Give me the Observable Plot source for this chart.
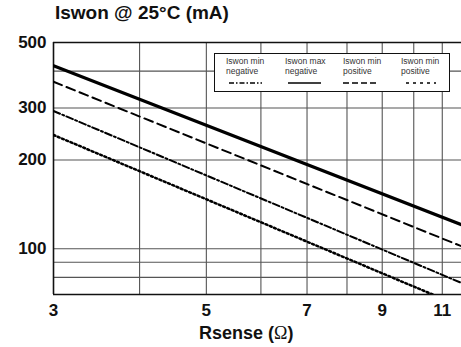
<!DOCTYPE html>
<html>
<head>
<meta charset="utf-8">
<script src="https://cdn.jsdelivr.net/npm/d3@7"></script>
<script src="https://cdn.jsdelivr.net/npm/@observablehq/plot@0.6"></script>
<style>
  body { margin: 0; background: #fff; }
  #wrap { position: relative; width: 461px; height: 347px; overflow: hidden; font-family: "Liberation Sans", Arial, sans-serif; }
  #title { position: absolute; left: 55px; top: 2px; font-size: 19px; font-weight: bold; color: #111; white-space: nowrap; }
  #xlabel { position: absolute; left: 199px; top: 323px; font-size: 18px; font-weight: bold; color: #111; white-space: nowrap; }
  #xlabel .om { font-family: "Liberation Serif", "DejaVu Serif", serif; font-weight: normal; }
  #legend { position: absolute; left: 214px; top: 53px; width: 234px; height: 37px; background: #fff; border: 1px solid #111; }
  .li { position: absolute; top: 2px; font-size: 8.5px; color: #333; line-height: 10px; }
  .li svg { display: block; margin-top: 4px; }
</style>
</head>
<body>
<div id="wrap"></div>
<script>
// Data
const xDomain = [3, 11.73];           // Rsense (Ω) visible range
const yDomain = [70, 500];            // Iswon (mA) visible range
const xTicks = [3, 5, 7, 9, 11];
const yTicks = [100, 200, 300, 500];
const xGrid = [4, 5, 6, 7, 8, 9, 10, 11];
const yGrid = [80, 90, 100, 200, 300, 400];

const rMaxNeg = [3, 11.73];  const iMaxNeg = [417, 120.6];   // Iswon max negative (solid)
const rMinPosD = [3, 11.73]; const iMinPosD = [368, 102];    // Iswon min positive (dashed)
const rMinNeg = [3, 11.73];  const iMinNeg = [293, 76.6];    // Iswon min negative (dash-dot)
const rMinPos = [3, 10.65];  const iMinPos = [243, 70];      // Iswon min positive (dotted)

const seriesNames = ["Iswon min\nnegative", "Iswon max\nnegative", "Iswon min\npositive", "Iswon min\npositive"];

const toRows = (xs, ys) => xs.map((x, i) => ({x, y: ys[i]}));

const lineStyles = [
  {rows: toRows(rMinNeg, iMinNeg), strokeWidth: 2, dash: "7,2.5,2,2.5"},
  {rows: toRows(rMaxNeg, iMaxNeg), strokeWidth: 3.2, dash: null},
  {rows: toRows(rMinPosD, iMinPosD), strokeWidth: 2, dash: "9,5"},
  {rows: toRows(rMinPos, iMinPos), strokeWidth: 2.5, dash: "2,2.6"}
];

const chart = Plot.plot({
  width: 461,
  height: 347,
  marginLeft: 53,
  marginRight: 0,
  marginTop: 42,
  marginBottom: 53,
  style: {fontFamily: "'Liberation Sans', Arial, sans-serif", fontSize: "17px", fontWeight: "bold", color: "#111", background: "transparent"},
  x: {type: "log", domain: xDomain, axis: null},
  y: {type: "log", domain: yDomain, axis: null},
  marks: [
    Plot.gridX(xGrid, {stroke: "#555", strokeOpacity: 1, strokeWidth: 1.1}),
    Plot.gridY(yGrid, {stroke: "#555", strokeOpacity: 1, strokeWidth: 1.1}),
    Plot.ruleX([xDomain[0]], {stroke: "#111", strokeWidth: 1.6}),
    Plot.ruleY(yDomain, {stroke: "#111", strokeWidth: 1.6}),
    ...lineStyles.map(s => Plot.line(s.rows, {x: "x", y: "y", stroke: "#000", strokeWidth: s.strokeWidth, strokeDasharray: s.dash, clip: true})),
    Plot.text(xTicks, {x: d => d, text: d => String(d), frameAnchor: "bottom", lineAnchor: "top", dy: 9, fontSize: 17, fontWeight: "bold", fill: "#111"}),
    Plot.text(yTicks, {y: d => d, text: d => String(d), frameAnchor: "left", textAnchor: "end", dx: -7, fontSize: 17, fontWeight: "bold", fill: "#111"})
  ]
});

const wrap = document.getElementById("wrap");
wrap.appendChild(chart);

const title = document.createElement("div");
title.id = "title";
title.textContent = "Iswon @ 25°C (mA)";
wrap.appendChild(title);

const xl = document.createElement("div");
xl.id = "xlabel";
xl.innerHTML = 'Rsense (<span class="om">Ω</span>)';
wrap.appendChild(xl);

// Legend
const legend = document.createElement("div");
legend.id = "legend";
const itemLeft = [11, 70, 128, 186];
const sampleX = [3, 3, 0, 5];
const sampleW = [33, 33, 33, 30];
seriesNames.forEach((name, i) => {
  const it = document.createElement("div");
  it.className = "li";
  it.style.left = itemLeft[i] + "px";
  it.innerHTML = name.split("\n").join("<br>");
  const svg = d3.create("svg").attr("width", 45).attr("height", 6);
  svg.append("line").attr("x1", sampleX[i]).attr("x2", sampleX[i] + sampleW[i]).attr("y1", 3).attr("y2", 3)
    .attr("stroke", "#000").attr("stroke-width", i === 1 ? 1.6 : 1.3)
    .attr("stroke-dasharray", i === 0 ? "5,2,1.5,2" : i === 2 ? "6,3" : i === 3 ? "3,4" : null);
  it.appendChild(svg.node());
  legend.appendChild(it);
});
wrap.appendChild(legend);
</script>
</body>
</html>
